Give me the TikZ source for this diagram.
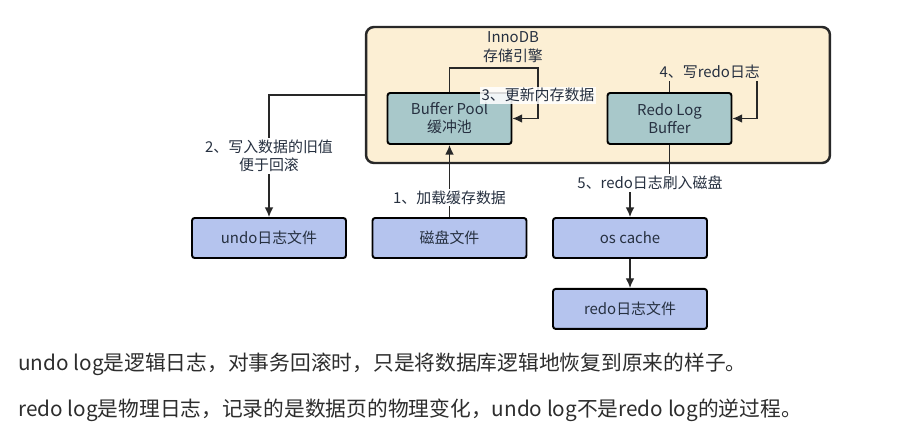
\documentclass[tikz,border=0pt]{standalone}
\usepackage{fontspec}
\setmainfont{Noto Sans CJK SC}
\usepackage{xcolor}
\usepackage{tikz}
\usetikzlibrary{arrows.meta,positioning}
\definecolor{innoYellow}{RGB}{252,239,212}
\definecolor{poolTeal}{RGB}{168,200,202}
\definecolor{fileBlue}{RGB}{181,196,238}
\definecolor{lineGray}{RGB}{40,40,40}
\definecolor{textNavy}{RGB}{38,48,64}
\definecolor{noteGray}{RGB}{45,45,45}

\begin{document}
\begin{tikzpicture}[x=0.02cm,y=-0.02cm,
    engine/.style={draw=lineGray, line width=1.4pt, fill=innoYellow, rounded corners=4.5pt,
        minimum width=9.28cm, minimum height=2.72cm},
    mem/.style={draw=black, line width=1.1pt, fill=poolTeal, rounded corners=1.5pt,
        minimum width=2.48cm, minimum height=1.02cm, inner sep=0pt, align=center,
        text=textNavy, font=\fontsize{8.5}{10.2}\selectfont},
    file/.style={draw=black, line width=1.1pt, fill=fileBlue, rounded corners=1.5pt,
        minimum width=3.08cm, minimum height=0.8cm, inner sep=0pt,
        text=textNavy, font=\fontsize{8.5}{10.2}\selectfont},
    tag/.style={fill=white, inner sep=1pt, align=center, text=textNavy,
        font=\fontsize{8.5}{10.2}\selectfont},
    note/.style={anchor=west, inner sep=0pt, text=noteGray, font=\fontsize{11.8}{13}\selectfont},
    flow/.style={-{Latex[length=5.5pt,width=5pt]}, line width=0.8pt, lineGray}]
    \useasboundingbox (0,0) rectangle (911,435);
    \fill[white] (0,0) rectangle (911,435);

    % storage engine
    \node[engine] (innodb) at (598,95) {};
    \node[tag, fill=none, font=\fontsize{8.5}{10.8}\selectfont] (title) at (513,47) {InnoDB\\存储引擎};

    % memory buffers
    \node[mem] (pool) at (449.5,118.5) {Buffer Pool\\缓冲池};
    \node[mem] (redobuf) at (669.5,118.5) {Redo Log\\Buffer};

    % files
    \node[file] (undo) at (269,238) {undo日志文件};
    \node[file] (disk) at (449.5,238) {磁盘文件};
    \node[file] (oscache) at (630,238) {os cache};
    \node[file, below=0.58cm of oscache] (redofile) {redo日志文件};

    % 1 load
    \draw[flow] (disk.north) -- node[tag, pos=0.27] {1、加载缓存数据} (pool.south);

    % 2 old value
    \draw[flow] (innodb.west) -| node[tag, pos=0.75] {2、写入数据的旧值\\便于回滚} (undo.north);

    % 3 update
    \draw[flow] (pool.north) |- (538,68) |- node[tag, fill opacity=0.85, text opacity=1, pos=0.27] {3、更新内存数据} (pool.east);

    % 4 write redo
    \draw[flow] (redobuf.north) |- node[tag, fill=innoYellow, pos=0.73] {4、写redo日志} (757,72) |- (redobuf.east);

    % 5 flush
    \draw[flow] (redobuf.south) |- (650,183) node[tag] {5、redo日志刷入磁盘} -| (oscache.north);

    % 6
    \draw[flow] (oscache) -- (redofile);

    % notes
    \node[note] (note1) at (18,364) {undo log是逻辑日志，对事务回滚时，只是将数据库逻辑地恢复到原来的样子。};
    \node[note] (note2) at (18,410) {redo log是物理日志，记录的是数据页的物理变化，undo log不是redo log的逆过程。};
\end{tikzpicture}
\end{document}
